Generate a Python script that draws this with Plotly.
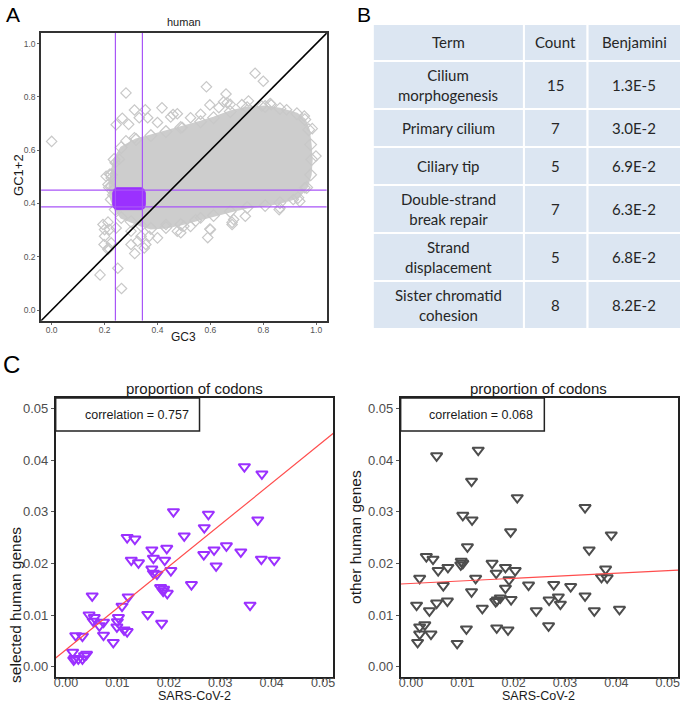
import plotly.graph_objects as go

W, H = 685, 702


def px(X):
    return X / W


def py(Y):
    return 1 - Y / H


# ---------------- Panel A data (GC3 vs GC1+2, human) ----------------
axis_range_a = [-0.04, 1.04]
tick_vals_a = [0.0, 0.2, 0.4, 0.6, 0.8, 1.0]
gc3_cut = [0.241, 0.343]        # vertical purple lines
gc12_cut = [0.387, 0.450]       # horizontal purple lines

# outline of the dense grey cloud of human genes
cloud_x = [0.225, 0.236, 0.263, 0.319, 0.375, 0.432, 0.488, 0.563, 0.612, 0.675, 0.739,
           0.807, 0.863, 0.927, 0.957, 0.972, 0.979, 0.983, 0.979, 0.964, 0.931, 0.863,
           0.807, 0.739, 0.675, 0.612, 0.544, 0.488, 0.432, 0.375, 0.338, 0.300, 0.263,
           0.240, 0.225, 0.218, 0.225]
cloud_y = [0.508, 0.565, 0.610, 0.640, 0.655, 0.670, 0.685, 0.707, 0.722, 0.745, 0.760,
           0.764, 0.756, 0.737, 0.715, 0.677, 0.621, 0.565, 0.508, 0.460, 0.422, 0.403,
           0.392, 0.385, 0.370, 0.355, 0.336, 0.321, 0.310, 0.306, 0.317, 0.332, 0.347,
           0.377, 0.415, 0.460, 0.508]

# scattered genes outside the dense cloud
outlier_x = [0.000, 0.281, 0.769, 0.800, 0.585, 0.659, 0.888, 0.999, 0.985, 0.955, 0.183,
             0.250, 0.264, 0.598, 0.590, 0.488, 0.400, 0.350, 0.314, 0.215, 0.200, 0.213,
             0.244, 0.225, 0.206, 0.244, 0.267, 0.313, 0.354, 0.417, 0.459, 0.663, 0.719,
             0.830, 0.860, 0.732, 0.682, 0.938, 0.525, 0.291, 0.331, 0.363, 0.400, 0.450,
             0.475, 0.313, 0.281, 0.240, 0.256, 0.219, 0.650, 0.598, 0.632, 0.675, 0.744,
             0.794, 0.826, 0.563, 0.525, 0.494, 0.194, 0.219, 0.200, 0.198, 0.225, 0.213,
             0.300, 0.325, 0.356, 0.369, 0.432, 0.475, 0.300, 0.338, 0.213, 0.225, 0.231,
             0.688, 0.500, 0.563, 0.863, 0.913, 0.957, 0.682, 0.600]
outlier_y = [0.633, 0.815, 0.889, 0.859, 0.838, 0.811, 0.752, 0.578, 0.681, 0.728, 0.132,
             0.157, 0.081, 0.304, 0.272, 0.290, 0.271, 0.233, 0.212, 0.233, 0.302, 0.330,
             0.308, 0.465, 0.502, 0.696, 0.720, 0.751, 0.752, 0.759, 0.734, 0.778, 0.771,
             0.771, 0.377, 0.352, 0.329, 0.408, 0.314, 0.697, 0.722, 0.722, 0.704, 0.725,
             0.737, 0.647, 0.635, 0.553, 0.566, 0.510, 0.782, 0.770, 0.760, 0.772, 0.785,
             0.766, 0.775, 0.735, 0.722, 0.685, 0.321, 0.302, 0.277, 0.246, 0.252, 0.227,
             0.246, 0.258, 0.246, 0.277, 0.321, 0.296, 0.296, 0.277, 0.471, 0.496, 0.433,
             0.340, 0.315, 0.346, 0.383, 0.415, 0.459, 0.321, 0.302]

# outline of the selected (purple) gene cluster
selected_x = [0.245, 0.340, 0.350, 0.354, 0.354, 0.350, 0.340, 0.245, 0.235, 0.231, 0.231, 0.235, 0.245]
selected_y = [0.459, 0.459, 0.452, 0.440, 0.395, 0.382, 0.377, 0.377, 0.383, 0.395, 0.440, 0.452, 0.459]

# ---------------- Panel B data (table) ----------------
table_header = ["Term", "Count", "Benjamini"]
terms = ["Cilium<br>morphogenesis", "Primary cilium", "Ciliary tip",
         "Double-strand<br>break repair", "Strand<br>displacement", "Sister chromatid<br>cohesion"]
counts = [15, 7, 5, 7, 5, 8]
benjamini = ["1.3E-5", "3.0E-2", "6.9E-2", "6.3E-2", "6.8E-2", "8.2E-2"]

# ---------------- Panel C data (codon proportions) ----------------
sel_x = [0.0347, 0.0381, 0.0209, 0.0277, 0.0373, 0.0269, 0.0230, 0.0119, 0.0134,
         0.0167, 0.0196, 0.0268, 0.0288, 0.0312, 0.0340, 0.0380, 0.0405, 0.0127, 0.0141, 0.0170, 0.0192,
         0.0167, 0.0170, 0.0177, 0.0204, 0.0292, 0.0244, 0.0184, 0.0190, 0.0189, 0.0197,
         0.0051, 0.0121, 0.0109, 0.0358, 0.0159, 0.0045, 0.0055, 0.0053, 0.0102, 0.0100, 0.0073,
         0.0065, 0.0099, 0.0113, 0.0119, 0.0073, 0.0186, 0.0092,
         0.0019, 0.0032, 0.0013, 0.0017, 0.0024, 0.0036, 0.0040, 0.0032, 0.0015]
sel_y = [0.0387, 0.0373, 0.0300, 0.0295, 0.0284, 0.0269, 0.0253, 0.0250, 0.0247,
         0.0226, 0.0229, 0.0217, 0.0226, 0.0234, 0.0222, 0.0208, 0.0206, 0.0206, 0.0201, 0.0210, 0.0206,
         0.0189, 0.0181, 0.0179, 0.0186, 0.0195, 0.0159, 0.0153, 0.0150, 0.0146, 0.0142,
         0.0137, 0.0135, 0.0117, 0.0119, 0.0101, 0.0100, 0.0095, 0.0088, 0.0095, 0.0087, 0.0086,
         0.0079, 0.0077, 0.0071, 0.0068, 0.0061, 0.0084, 0.0047,
         0.0060, 0.0059, 0.0028, 0.0016, 0.0015, 0.0021, 0.0024, 0.0015, 0.0013]
oth_x = [0.0050, 0.0131, 0.0118, 0.0207, 0.0339, 0.0101, 0.0119, 0.0194, 0.0390,
         0.0347, 0.0110, 0.0030, 0.0043, 0.0098, 0.0101, 0.0097, 0.0158, 0.0053, 0.0072, 0.0166,
         0.0184, 0.0203, 0.0379, 0.0371, 0.0382, 0.0017, 0.0126, 0.0191, 0.0063, 0.0229, 0.0278,
         0.0311, 0.0184, 0.0118, 0.0339, 0.0287, 0.0174, 0.0168, 0.0165, 0.0195, 0.0269, 0.0291,
         0.0011, 0.0050, 0.0071, 0.0139, 0.0244, 0.0357, 0.0406, 0.0036, 0.0017, 0.0027, 0.0017,
         0.0039, 0.0013, 0.0108, 0.0167, 0.0189, 0.0268, 0.0090]
oth_y = [0.0408, 0.0419, 0.0359, 0.0327, 0.0308, 0.0293, 0.0284, 0.0261, 0.0255,
         0.0226, 0.0232, 0.0213, 0.0208, 0.0204, 0.0200, 0.0197, 0.0200, 0.0186, 0.0192, 0.0181,
         0.0192, 0.0186, 0.0189, 0.0173, 0.0172, 0.0171, 0.0171, 0.0168, 0.0157, 0.0158, 0.0159,
         0.0155, 0.0152, 0.0145, 0.0137, 0.0135, 0.0133, 0.0129, 0.0126, 0.0130, 0.0129, 0.0121,
         0.0119, 0.0123, 0.0127, 0.0113, 0.0108, 0.0108, 0.0111, 0.0108, 0.0077, 0.0081, 0.0063,
         0.0063, 0.0047, 0.0073, 0.0075, 0.0071, 0.0079, 0.0045]
corr_sel = 0.757
corr_oth = 0.068
fit_sel = (0.0033, 0.805)   # intercept, slope of regression line
fit_oth = (0.0161, 0.050)
axis_range_c = [-0.002, 0.052]
tick_vals_c = [0.00, 0.01, 0.02, 0.03, 0.04, 0.05]

PURPLE = "#9b30ff"
LINE_PURPLE = "#a855f7"
GREY_PT = "#c8c8c8"
FONT = "Liberation Sans, Arial, sans-serif"
TFONT = "Lato, sans-serif"

fig = go.Figure()

# ---- Panel A traces ----
fig.add_trace(go.Scatter(x=cloud_x, y=cloud_y, mode="lines+markers", fill="toself",
                         fillcolor="#cdcdcd", line=dict(color="#cdcdcd", width=2),
                         marker=dict(symbol="diamond-open", size=9, color=GREY_PT, line=dict(width=1.2)),
                         xaxis="x", yaxis="y", hoverinfo="skip", showlegend=False))
fig.add_trace(go.Scatter(x=outlier_x, y=outlier_y, mode="markers",
                         marker=dict(symbol="diamond-open", size=8, color=GREY_PT, line=dict(width=1.2)),
                         xaxis="x", yaxis="y", showlegend=False))
fig.add_trace(go.Scatter(x=selected_x, y=selected_y, mode="lines", fill="toself",
                         fillcolor=PURPLE, line=dict(color=PURPLE, width=1),
                         xaxis="x", yaxis="y", showlegend=False))
for v in gc3_cut:
    fig.add_trace(go.Scatter(x=[v, v], y=axis_range_a, mode="lines",
                             line=dict(color=LINE_PURPLE, width=1.2),
                             xaxis="x", yaxis="y", showlegend=False))
for v in gc12_cut:
    fig.add_trace(go.Scatter(x=axis_range_a, y=[v, v], mode="lines",
                             line=dict(color=LINE_PURPLE, width=1.2),
                             xaxis="x", yaxis="y", showlegend=False))
fig.add_trace(go.Scatter(x=axis_range_a, y=axis_range_a, mode="lines",
                         line=dict(color="black", width=1.6),
                         xaxis="x", yaxis="y", showlegend=False))

# ---- Panel C traces ----
for xs, ys, col, ax, ay, fit in [(sel_x, sel_y, PURPLE, "x2", "y2", fit_sel),
                                 (oth_x, oth_y, "#4d4d4d", "x3", "y3", fit_oth)]:
    fig.add_trace(go.Scatter(x=xs, y=ys, mode="markers",
                             marker=dict(symbol="triangle-down-open", size=10, color=col,
                                         line=dict(width=2, color=col)),
                             xaxis=ax, yaxis=ay, showlegend=False))
    fx = axis_range_c
    fy = [fit[0] + fit[1] * v for v in fx]
    fig.add_trace(go.Scatter(x=fx, y=fy, mode="lines", line=dict(color="#ff4d4d", width=1.2),
                             xaxis=ax, yaxis=ay, showlegend=False))

# ---- axes ----
axA = dict(range=axis_range_a, tickvals=tick_vals_a, tickformat=".1f", showgrid=False,
           zeroline=False, showline=True, mirror=True, linecolor="#333333", linewidth=1.6,
           ticks="outside", ticklen=2, tickcolor="#666666",
           tickfont=dict(size=8.5, color="#555555", family=FONT))
axC = dict(range=axis_range_c, tickvals=tick_vals_c, tickformat=".2f", showgrid=False,
           zeroline=False, showline=True, mirror=True, linecolor="#222222", linewidth=1.6,
           ticks="outside", ticklen=3, tickcolor="#555555",
           tickfont=dict(size=13, color="#4d4d4d", family=FONT))
xC_font = dict(size=12.5, color="#4d4d4d", family=FONT)

fig.update_layout(
    width=W, height=H, autosize=False,
    margin=dict(l=0, r=0, t=0, b=0),
    paper_bgcolor="white", plot_bgcolor="white",
    xaxis=dict(axA, domain=[px(39.3), px(326.7)], anchor="y", ticklabelstandoff=-2),
    yaxis=dict(axA, domain=[py(320.7), py(33)], anchor="x"),
    xaxis2=dict(axC, domain=[px(54), px(333.3)], anchor="y2", ticklabelstandoff=-10, tickfont=xC_font),
    yaxis2=dict(axC, domain=[py(677), py(398)], anchor="x2"),
    xaxis3=dict(axC, domain=[px(401), px(680)], anchor="y3", ticklabelstandoff=-10, tickfont=xC_font),
    yaxis3=dict(axC, domain=[py(677), py(398)], anchor="x3"),
)

shapes = []
annotations = []

# correlation boxes
for ax, ay, corr, cx in [("x2", "y2", corr_sel, 136), ("x3", "y3", corr_oth, 482)]:
    shapes.append(dict(type="rect", xref=f"{ax} domain", yref=f"{ay} domain",
                       x0=0, x1=0.518, y0=0.882, y1=1.0,
                       line=dict(color="#222222", width=1.5), fillcolor="white"))
    annotations.append(dict(text=f"correlation = {corr:.3f}",
                            x=px(cx), y=py(415), xref="paper", yref="paper",
                            xanchor="center", yanchor="middle",
                            showarrow=False, font=dict(size=12.5, color="#1a1a1a", family=FONT)))

# table (panel B)
col_edges = [373, 525, 589, 683]
row_heights = [37] + [48 if "<br>" in t else 38 for t in terms]
rows = [table_header] + [[t, str(c), b] for t, c, b in zip(terms, counts, benjamini)]
y0 = 24
for r, (rh, row) in enumerate(zip(row_heights, rows)):
    for c in range(3):
        shapes.append(dict(type="rect", xref="paper", yref="paper",
                           x0=px(col_edges[c]), x1=px(col_edges[c + 1]),
                           y0=py(y0 + rh), y1=py(y0),
                           fillcolor="#dce6f2", line=dict(color="white", width=2)))
        annotations.append(dict(text=row[c], x=px((col_edges[c] + col_edges[c + 1]) / 2),
                                y=py(y0 + rh / 2), xref="paper", yref="paper",
                                xanchor="center", yanchor="middle",
                                showarrow=False, align="center",
                                font=dict(size=15, color="#262626", family=TFONT)))
    y0 += rh


def label(text, X, Y, size, angle=0, color="#1a1a1a"):
    annotations.append(dict(text=text, x=px(X), y=py(Y), xref="paper", yref="paper",
                            xanchor="center", yanchor="middle",
                            showarrow=False, textangle=angle,
                            font=dict(size=size, color=color, family=FONT)))


label("A", 11, 14.5, 21, color="black")
label("B", 364, 14.5, 21, color="black")
label("C", 10, 364, 24, color="black")
label("human", 183, 22.5, 11)
label("GC1+2", 16, 175, 13, angle=-90)
label("GC3", 183, 337, 12)
label("proportion of codons", 194, 388, 15)
label("proportion of codons", 540, 388, 15)
label("selected human genes", 13, 605, 15.5, angle=-90)
label("other human genes", 355, 537, 15.5, angle=-90)
label("SARS-CoV-2", 194, 695.5, 12.5)
label("SARS-CoV-2", 540, 695.5, 12.5)

fig.update_layout(shapes=shapes, annotations=annotations)
fig.write_html("out.html", config={"displayModeBar": False},
               post_script="document.body.style.margin='0px';document.body.style.overflow='hidden';")
